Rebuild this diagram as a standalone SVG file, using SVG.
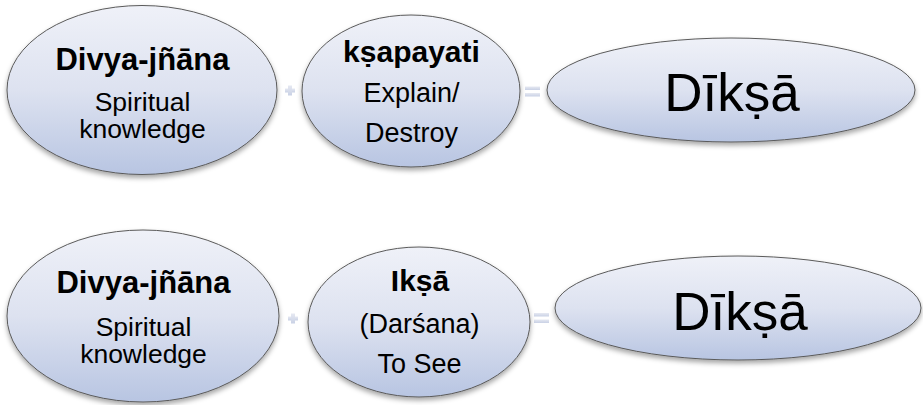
<svg xmlns="http://www.w3.org/2000/svg" width="923" height="405" viewBox="0 0 923 405">
  <defs>
    <linearGradient id="fill" x1="0" y1="0" x2="0" y2="1">
      <stop offset="0" stop-color="#eff1f8"/>
      <stop offset="0.5" stop-color="#dde2f0"/>
      <stop offset="1" stop-color="#b8c5e2"/>
    </linearGradient>
    <linearGradient id="sign" x1="0" y1="0" x2="0" y2="1">
      <stop offset="0" stop-color="#e6e9f2"/>
      <stop offset="1" stop-color="#c9d1e5"/>
    </linearGradient>
    <filter id="shadow" x="-10%" y="-10%" width="120%" height="130%">
      <feDropShadow dx="0" dy="3" stdDeviation="2.5" flood-color="#000" flood-opacity="0.35"/>
    </filter>
  </defs>
  <style>
    .node { fill: url(#fill); stroke: #5a5a5a; stroke-width: 1; filter: url(#shadow); }
    .t { font-family: "Liberation Sans", Arial, sans-serif; fill: #000; text-anchor: middle; }
    .title { font-weight: bold; font-size: 31px; }
    .title2 { font-weight: bold; font-size: 30px; }
    .body { font-size: 27px; }
    .body2 { font-size: 26.5px; }
    .big { font-size: 53px; }
    .sign { fill: url(#sign); }
  </style>
  <rect width="923" height="405" fill="#fff"/>

  <g id="connectors">
    <g id="plus-top">
      <rect class="sign" x="285" y="88.5" width="10" height="4"/>
      <rect class="sign" x="288" y="85.5" width="4" height="10"/>
    </g>
    <g id="equals-top">
      <rect class="sign" x="525" y="86.5" width="15" height="3.5"/>
      <rect class="sign" x="525" y="93" width="15" height="3.5"/>
    </g>
    <g id="plus-bottom">
      <rect class="sign" x="288" y="316.5" width="10" height="4"/>
      <rect class="sign" x="291" y="313.5" width="4" height="10"/>
    </g>
    <g id="equals-bottom">
      <rect class="sign" x="534" y="313" width="15" height="3.5"/>
      <rect class="sign" x="534" y="319.5" width="15" height="3.5"/>
    </g>
  </g>

  <g id="node-divya-top">
    <ellipse class="node" cx="142" cy="90" rx="135" ry="84.5"/>
    <text class="t title" x="142.5" y="70">Divya-jñāna</text>
    <text class="t body2" x="142.5" y="111">Spiritual</text>
    <text class="t body2" x="142.5" y="138">knowledge</text>
  </g>

  <g id="node-kshapayati">
    <ellipse class="node" cx="411" cy="91" rx="109" ry="76"/>
    <text class="t title2" x="411.5" y="62">kṣapayati</text>
    <text class="t body" x="411.5" y="102">Explain/</text>
    <text class="t body" x="411.5" y="142">Destroy</text>
  </g>

  <g id="node-diksha-top">
    <ellipse class="node" cx="731" cy="90" rx="184" ry="52"/>
    <text class="t big" x="732" y="111">Dīkṣā</text>
  </g>

  <g id="node-divya-bottom">
    <ellipse class="node" cx="143" cy="316" rx="136" ry="86"/>
    <text class="t title" x="143.5" y="293">Divya-jñāna</text>
    <text class="t body2" x="143.5" y="336">Spiritual</text>
    <text class="t body2" x="143.5" y="363">knowledge</text>
  </g>

  <g id="node-iksha">
    <ellipse class="node" cx="419" cy="322" rx="111" ry="75"/>
    <text class="t title2" x="420" y="291">Ikṣā</text>
    <text class="t body" x="419.5" y="333">(Darśana)</text>
    <text class="t body" x="419.5" y="373">To See</text>
  </g>

  <g id="node-diksha-bottom">
    <ellipse class="node" cx="738" cy="308" rx="183" ry="52"/>
    <text class="t big" x="740" y="330">Dīkṣā</text>
  </g>
</svg>
